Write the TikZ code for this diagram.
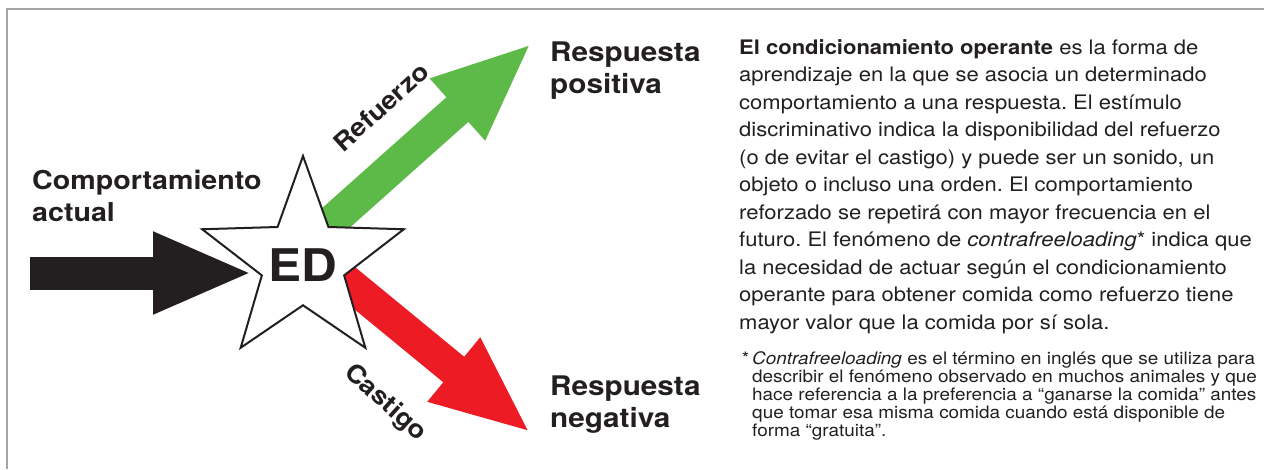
\documentclass[tikz,border=0pt]{standalone}
\usepackage{fontspec}
\setmainfont{TeX Gyre Heros}[FakeStretch=1.1]
\frenchspacing
\usetikzlibrary{arrows.meta,shapes.geometric}
\definecolor{inkblack}{RGB}{35,31,32}
\definecolor{refgreen}{RGB}{94,186,72}
\definecolor{castred}{RGB}{237,28,36}
\definecolor{framegray}{RGB}{165,165,165}
\tikzset{
  fatarrow/.style={line width=33pt,->},
  title/.style={font=\bfseries\fontsize{27}{32}\selectfont,anchor=base west,align=left,inner sep=0pt,text=inkblack},
  armlabel/.style={font=\bfseries\fontsize{25}{25}\selectfont,inner sep=0pt,text=inkblack},
  bodytext/.style={anchor=base west,align=left,inner sep=0pt,text=inkblack},
}

\begin{document}
\begin{tikzpicture}[x=1pt,y=-1pt,>={Triangle[length=100pt,width=75pt]}]
  \useasboundingbox (0,0) rectangle (1264,469);
  % frame, top and left only
  \draw[framegray,line width=2pt] (1264,9) -- (7,9) -- (7,469);

  % arrows go first, the star covers their tails
  \coordinate (ed centre) at (303,262);
  \coordinate (in start) at (30,273);
  \coordinate (in end) at (253,273);
  \coordinate (up start) at (310,241);
  \coordinate (up end) at (532,43);
  \coordinate (down start) at (318,258);
  \coordinate (down end) at (531,433);
  \draw[fatarrow,inkblack] (in start) -- (in end);
  \draw[fatarrow,refgreen] (up start) -- (up end);
  \draw[fatarrow,castred] (down start) -- (down end);

  % empty star so that its size is set by minimum size only
  \node[star,star points=5,star point ratio=2.45,minimum size=212pt,inner sep=0pt,
        draw=inkblack,line width=2pt,fill=white,
        label={[text=inkblack,font=\bfseries\fontsize{45}{45}\selectfont,yshift=-3pt]center:ED}]
        (ed) at (ed centre) {};

  % base anchor = last line of the node
  \node[title,font=\bfseries\fontsize{26}{32}\selectfont] (comp) at (32,221) {Comportamiento\\actual};
  \node[title] (pos) at (550,93) {Respuesta\\positiva};
  \node[title] (neg) at (550,427) {Respuesta\\negativa};
  \node[armlabel,rotate=42] (ref) at (381,107) {Refuerzo};
  \node[armlabel,rotate=-42] (cast) at (385,403) {Castigo};

  % explanation on the right
  \node[bodytext,font=\fontsize{20}{27.5}\selectfont] (body) at (739,329)
    {\textbf{El condicionamiento operante} es la forma de\\
     aprendizaje en la que se asocia un determinado\\
     comportamiento a una respuesta. El estímulo\\
     discriminativo indica la disponibilidad del refuerzo\\
     (o de evitar el castigo) y puede ser un sonido, un\\
     objeto o incluso una orden. El comportamiento\\
     reforzado se repetirá con mayor frecuencia en el\\
     futuro. El fenómeno de \textit{contrafreeloading}* indica que\\
     la necesidad de actuar según el condicionamiento\\
     operante para obtener comida como refuerzo tiene\\
     mayor valor que la comida por sí sola.};
  \node[bodytext,font=\fontsize{17.2}{18}\selectfont] (note) at (752,436)
    {\llap{*\,}\textit{Contrafreeloading} es el término en inglés que se utiliza para\\
     describir el fenómeno observado en muchos animales y que\\
     hace referencia a la preferencia a “ganarse la comida” antes\\
     que tomar esa misma comida cuando está disponible de\\
     forma “gratuita”.};
\end{tikzpicture}
\end{document}
